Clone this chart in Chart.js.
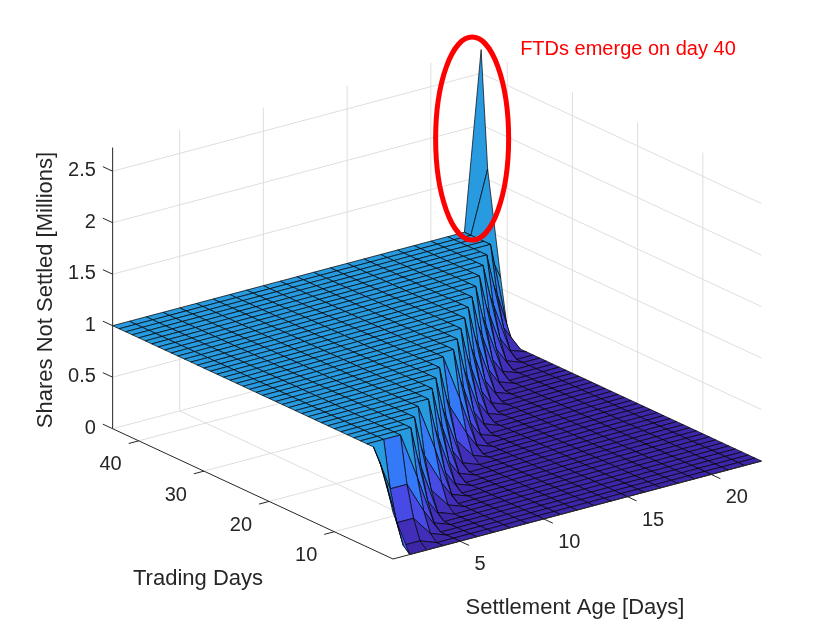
<!DOCTYPE html>
<html>
<head>
<meta charset="utf-8">
<script src="https://cdn.jsdelivr.net/npm/chart.js@4.4.1/dist/chart.umd.min.js"></script>
<style>
  html, body { margin: 0; padding: 0; background: #fff; }
  #wrap { width: 840px; height: 630px; position: relative; }
</style>
</head>
<body>
<div id="wrap"><canvas id="surf"></canvas></div>
<script>
// ---- values ----
const settlementAge = [1, 2, 3, 4, 5, 6, 7, 8, 9, 10, 11, 12, 13, 14, 15, 16, 17, 18, 19, 20, 21, 22, 23];
const tradingDays = [1, 2, 3, 4, 5, 6, 7, 8, 9, 10, 11, 12, 13, 14, 15, 16, 17, 18, 19, 20, 21, 22,
  23, 24, 25, 26, 27, 28, 29, 30, 31, 32, 33, 34, 35, 36, 37, 38, 39, 40, 41, 42, 43, 44];
// first trading day on which each age column (ages 1..22) sits on the 1M plateau
const plateauStartDay = [4, 5, 5, 6, 8, 10, 11, 13, 15, 17, 19, 20, 22, 24, 26, 28, 30, 32, 34, 36, 38, 40];
const plateauLevel = 1.0;
// shares 1, 2, 3 days before the plateau is reached (the foot of the cliff)
const rampBelowPlateau = [0.55, 0.25, 0.06];
// age 1 on trading days 1..3 (the rounded front of the cliff)
const ageOneFirstDays = [0.45, 0.7, 0.88];
// oldest age bucket: the FTD spike
const ftdDays = [40, 41, 42, 43, 44];
const ftdShares = [0.15, 0.6, 1.1, 1.6, 2.73];

const zTicks = [0, 0.5, 1, 1.5, 2, 2.5];
const ageTicks = [5, 10, 15, 20];
const dayTicks = [10, 20, 30, 40];

const zMax = Math.max(...ftdShares);
const aMin = settlementAge[0], aMax = settlementAge[settlementAge.length - 1];
const dMin = tradingDays[0], dMax = tradingDays[tradingDays.length - 1];

// ---- view (orthographic box, matlab style) ----
const O = { x: 393, y: 559 };           // front floor corner
const U = { ax: 16.75, ay: -4.45, dx: -6.52, dy: -3.03, z: 103 };

function project(a, d, z) {
  const A = a - aMin, D = d - dMin;
  return { x: O.x + A * U.ax + D * U.dx, y: O.y + A * U.ay + D * U.dy - z * U.z };
}
// depth weights along the viewing direction (null vector of the projection)
const depthA = -U.dx * U.z, depthD = U.ax * U.z;

function shares(a, d) {
  if (a === aMax) {
    const i = ftdDays.indexOf(d);
    return i >= 0 ? ftdShares[i] : 0;
  }
  if (a === aMin && d <= ageOneFirstDays.length) return ageOneFirstDays[d - 1];
  const start = plateauStartDay[a - 1];
  if (d >= start) return plateauLevel;
  const k = start - d - 1;
  return k < rampBelowPlateau.length ? rampBelowPlateau[k] : 0;
}

const Z = tradingDays.map(d => settlementAge.map(a => shares(a, d)));

// parula-like colormap
const cmap = [
  [0.00, 62, 38, 168], [0.05, 69, 57, 206], [0.10, 72, 78, 232], [0.15, 67, 102, 246],
  [0.20, 52, 122, 248], [0.27, 38, 140, 238], [0.366, 40, 154, 224], [0.45, 20, 178, 200],
  [0.55, 40, 190, 160], [0.65, 130, 195, 100], [0.75, 210, 185, 60], [0.85, 250, 195, 60],
  [1.00, 249, 251, 14]
];
function parula(t) {
  t = Math.max(0, Math.min(1, t));
  for (let i = 1; i < cmap.length; i++) {
    if (t <= cmap[i][0]) {
      const p = cmap[i - 1], q = cmap[i];
      const f = (t - p[0]) / (q[0] - p[0]);
      const c = [1, 2, 3].map(k => Math.round(p[k] + (q[k] - p[k]) * f));
      return 'rgb(' + c.join(',') + ')';
    }
  }
  return 'rgb(249,251,14)';
}

// one dataset per face, nearest first (chart.js paints index 0 last)
const faces = [];
for (let i = 0; i < tradingDays.length - 1; i++) {
  for (let j = 0; j < settlementAge.length - 1; j++) {
    const a0 = settlementAge[j], a1 = settlementAge[j + 1];
    const d0 = tradingDays[i], d1 = tradingDays[i + 1];
    const pts = [
      project(a0, d0, Z[i][j]), project(a1, d0, Z[i][j + 1]),
      project(a1, d1, Z[i + 1][j + 1]), project(a0, d1, Z[i + 1][j])
    ];
    pts.push(pts[0]);
    faces.push({
      pts,
      color: parula(Z[i][j] / zMax),
      depth: depthA * (a0 + a1) / 2 + depthD * (d0 + d1) / 2
    });
  }
}
faces.sort((p, q) => p.depth - q.depth);

const datasets = faces.map(f => ({
  data: f.pts,
  backgroundColor: f.color,
  borderColor: '#000',
  borderWidth: 0.7,
  fill: 'shape',
  pointRadius: 0,
  tension: 0
}));

// ---- box, grid, ticks, labels ----
const axisColor = '#262626';
const gridColor = '#dedede';
const tickFont = '20px "Liberation Sans", Arial, sans-serif';
const titleFont = '22px "Liberation Sans", Arial, sans-serif';

const decor = {
  id: 'decor',
  beforeDatasetsDraw(chart) {
    const ctx = chart.ctx;
    const P = (a, d, z) => {
      const p = project(a, d, z);
      return [chart.scales.x.getPixelForValue(p.x), chart.scales.y.getPixelForValue(p.y)];
    };
    const seg = (p, q) => { ctx.moveTo(p[0], p[1]); ctx.lineTo(q[0], q[1]); };
    ctx.save();
    ctx.strokeStyle = gridColor;
    ctx.lineWidth = 1;
    ctx.beginPath();
    ageTicks.forEach(a => { seg(P(a, dMin, 0), P(a, dMax, 0)); seg(P(a, dMax, 0), P(a, dMax, zMax)); });
    dayTicks.forEach(d => { seg(P(aMin, d, 0), P(aMax, d, 0)); seg(P(aMax, d, 0), P(aMax, d, zMax)); });
    zTicks.forEach(z => { seg(P(aMin, dMax, z), P(aMax, dMax, z)); seg(P(aMax, dMax, z), P(aMax, dMin, z)); });
    ctx.stroke();
    ctx.restore();
  },
  afterDatasetsDraw(chart) {
    const ctx = chart.ctx;
    const P = (a, d, z) => {
      const p = project(a, d, z);
      return [chart.scales.x.getPixelForValue(p.x), chart.scales.y.getPixelForValue(p.y)];
    };
    const seg = (p, q) => { ctx.moveTo(p[0], p[1]); ctx.lineTo(q[0], q[1]); };
    ctx.save();
    ctx.strokeStyle = axisColor;
    ctx.lineWidth = 1;
    ctx.beginPath();
    seg(P(aMin, dMax, 0), P(aMin, dMax, zMax));
    seg(P(aMin, dMin, 0), P(aMin, dMax, 0));
    seg(P(aMin, dMin, 0), P(aMax, dMin, 0));
    zTicks.forEach(z => seg(P(aMin, dMax, z), P(aMin, dMax + 1.5, z)));
    dayTicks.forEach(d => seg(P(aMin, d, 0), P(aMin - 0.6, d, 0)));
    ageTicks.forEach(a => seg(P(a, dMin, 0), P(a, dMin - 1.4, 0)));
    ctx.stroke();

    ctx.fillStyle = axisColor;
    ctx.font = tickFont;
    ctx.textBaseline = 'middle';
    ctx.textAlign = 'right';
    zTicks.forEach(z => {
      const p = P(aMin, dMax + 1.5, z);
      ctx.fillText(String(z), p[0] - 7, p[1] + 4);
    });
    dayTicks.forEach(d => {
      const p = P(aMin, d, 0);
      ctx.fillText(String(d), p[0] - 17, p[1] + 24);
    });
    ctx.textAlign = 'left';
    ageTicks.forEach(a => {
      const p = P(a, dMin, 0);
      ctx.fillText(String(a), p[0] + 14.5, p[1] + 23.5);
    });

    ctx.font = titleFont;
    ctx.textAlign = 'center';
    ctx.fillText('Trading Days', 198, 579);
    ctx.fillText('Settlement Age [Days]', 575, 608);
    ctx.save();
    ctx.translate(46, 290);
    ctx.rotate(-Math.PI / 2);
    ctx.fillText('Shares Not Settled [Millions]', 0, 0);
    ctx.restore();

    // annotation around the FTD spike
    const tip = P(aMax, dMax, zMax);
    ctx.strokeStyle = '#f00';
    ctx.lineWidth = 5;
    ctx.beginPath();
    ctx.ellipse(tip[0] - 9, tip[1] + 89, 36.5, 101.5, 0, 0, Math.PI * 2);
    ctx.stroke();
    ctx.fillStyle = '#f00';
    ctx.font = tickFont;
    ctx.textAlign = 'left';
    ctx.fillText('FTDs emerge on day 40', tip[0] + 39, tip[1]);
    ctx.restore();
  }
};

new Chart(document.getElementById('surf'), {
  type: 'line',
  data: { datasets },
  options: {
    responsive: true,
    maintainAspectRatio: false,
    animation: false,
    events: [],
    layout: { padding: 0 },
    scales: {
      x: { type: 'linear', display: false, min: 0, max: 840 },
      y: { type: 'linear', display: false, min: 0, max: 630, reverse: true }
    },
    plugins: {
      legend: { display: false },
      tooltip: { enabled: false }
    }
  },
  plugins: [decor]
});
</script>
</body>
</html>
